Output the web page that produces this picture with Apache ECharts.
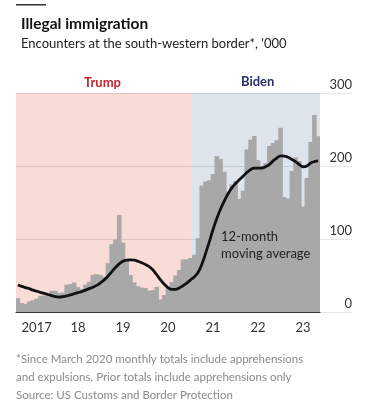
<!DOCTYPE html>
<html>
<head>
<meta charset="utf-8">
<script src="https://cdn.jsdelivr.net/npm/echarts@6/dist/echarts.min.js"></script>
<style>
  html, body { margin: 0; padding: 0; background: #fff; }
  #chart { width: 377px; height: 406px; }
</style>
</head>
<body>
<div id="chart"></div>
<script>
// months from Feb 2017 to Oct 2023
var months = [];
for (var y = 2017; y <= 2023; y++) {
  for (var m = 1; m <= 12; m++) {
    if (y === 2017 && m < 2) continue;
    if (y === 2023 && m > 10) continue;
    months.push(y + '-' + (m < 10 ? '0' + m : m));
  }
}

// monthly encounters, '000
var encounters = [
  18.8, 12.2, 11.1, 14.5, 16.1, 18.2, 22.3, 22.6, 25.5, 29.1, 29.0,            // 2017
  26.0, 26.7, 37.4, 38.3, 40.3, 34.1, 31.3, 37.5, 41.5, 51.0, 51.9, 50.7,      // 2018
  48.0, 66.9, 92.8, 99.3, 132.9, 94.9, 72.0, 50.7, 40.5, 35.4, 33.5, 32.9,     // 2019
  29.2, 30.1, 34.5, 17.1, 23.2, 33.0, 40.9, 50.0, 57.7, 71.9, 72.1, 74.0,      // 2020
  78.4, 101.1, 173.3, 178.8, 180.6, 189.0, 213.6, 209.6, 192.0, 164.8, 174.8, 179.3, // 2021
  154.9, 166.0, 222.6, 235.8, 241.1, 207.8, 200.2, 204.1, 227.5, 231.5, 235.2, 252.3, // 2022
  157.4, 155.6, 193.2, 211.8, 206.7, 144.6, 183.5, 232.9, 269.7, 240.9          // 2023
];

// 12-month moving average
var movingAvg = [
  37, 35, 33.5, 32, 30, 28.5, 27, 25.5, 24, 22.5, 21,
  20.5, 21, 22, 23.5, 25, 26.5, 28, 30, 32, 34, 36.5, 40,
  44, 49, 55, 61, 66, 69.5, 71, 71.5, 71, 69.5, 67.5, 65,
  62, 57.5, 51, 44, 38, 33.5, 31, 31, 33, 36, 39.5, 44,
  48, 54, 65, 80, 96, 113, 128, 141, 152, 162, 170, 176,
  181, 186, 191, 195, 197, 197, 197, 199, 202, 207, 211, 214,
  213.5, 212, 209, 206, 202, 199, 200, 204, 206, 207
];

var periods = [
  { name: 'Trump', from: '2017-02', to: '2020-12', color: '#f9dcd7', text: '#c1272d' },
  { name: 'Biden', from: '2021-01', to: '2023-10', color: '#dee4ec', text: '#2b2f6b' }
];

var yTicks = [0, 100, 200, 300];
var yearLabels = { '2017-07': '2017', '2018-06': '18', '2019-06': '19', '2020-06': '20',
                   '2021-06': '21', '2022-06': '22', '2023-06': '23' };

var font = 'Lato, "Open Sans", sans-serif';

function periodOf(month) {
  for (var i = 0; i < periods.length; i++) {
    if (month >= periods[i].from && month <= periods[i].to) return periods[i];
  }
  return null;
}

var shade = months.map(function (mo) {
  return { value: yTicks[yTicks.length - 1], itemStyle: { color: periodOf(mo).color } };
});

var chart = echarts.init(document.getElementById('chart'));

var option = {
  animation: false,
  backgroundColor: '#fff',
  textStyle: { fontFamily: font },
  title: {
    left: 16, top: 11,
    text: 'Illegal immigration',
    subtext: "Encounters at the south-western border*, '000",
    itemGap: 5,
    textStyle: { fontFamily: font, fontSize: 15.5, fontWeight: 'bold', color: '#111' },
    subtextStyle: { fontFamily: font, fontSize: 13, color: '#222' }
  },
  grid: [
    { left: 16, right: 57, top: 93, bottom: 94 },
    { left: 16, right: 25, top: 93, bottom: 94 }
  ],
  xAxis: [
    {
      type: 'category',
      gridIndex: 0,
      data: months,
      boundaryGap: true,
      z: 5,
      axisLine: { lineStyle: { color: '#333', width: 1 } },
      axisTick: {
        length: 5,
        lineStyle: { color: '#333' },
        interval: function (i, val) { return i === 0 || val.slice(5) === '01'; }
      },
      axisLabel: {
        interval: function (i, val) { return yearLabels[val] !== undefined; },
        formatter: function (val) { return yearLabels[val] || ''; },
        fontSize: 13, color: '#333', margin: 9, fontFamily: font
      },
      splitLine: { show: false }
    },
    { type: 'value', gridIndex: 1, min: 0, max: 1, show: false }
  ],
  yAxis: [
    { type: 'value', gridIndex: 0, min: 0, max: 300, show: false },
    {
      type: 'value', gridIndex: 1, position: 'right',
      min: 0, max: 300, interval: 100,
      z: 2,
      axisLine: { show: false },
      axisTick: { show: false },
      axisLabel: {
        inside: true, margin: 0, verticalAlign: 'bottom', padding: [0, 0, 2, 0],
        fontSize: 13, color: '#333', fontFamily: font
      },
      splitLine: { lineStyle: { color: 'rgba(0,0,0,0.1)', width: 1 } }
    }
  ],
  series: [
    {
      type: 'bar', xAxisIndex: 0, yAxisIndex: 0, z: 1,
      data: shade, barWidth: 4.6, barGap: '-100%', silent: true
    },
    {
      type: 'bar', xAxisIndex: 0, yAxisIndex: 0, z: 3,
      data: encounters, barWidth: 4.6, barGap: '-100%',
      itemStyle: { color: '#a8a8a8' }
    },
    {
      type: 'line', xAxisIndex: 0, yAxisIndex: 0, z: 4,
      data: movingAvg, smooth: 0.4, symbol: 'none',
      lineStyle: { color: '#111', width: 2.8 }
    }
  ],
  graphic: [
    { type: 'rect', left: 16, top: 4, z: 100, shape: { width: 30, height: 1.5 }, style: { fill: '#333' } },
    { type: 'text', left: 84, top: 76, z: 100, style: { text: 'Trump', font: 'bold 13px ' + font, fill: periods[0].text } },
    { type: 'text', left: 241, top: 75, z: 100, style: { text: 'Biden', font: 'bold 13px ' + font, fill: periods[1].text } },
    { type: 'text', left: 221, top: 229, z: 100, style: { text: '12-month\nmoving average', font: '13px ' + font, fill: '#222', lineHeight: 16.5 } },
    { type: 'text', left: 16, top: 350, z: 100, style: {
        text: '*Since March 2020 monthly totals include apprehensions\nand expulsions. Prior totals include apprehensions only\nSource: US Customs and Border Protection',
        font: '11.5px ' + font, fill: '#8a8a8a', lineHeight: 18 } }
  ]
};

chart.setOption(option);
</script>
</body>
</html>
